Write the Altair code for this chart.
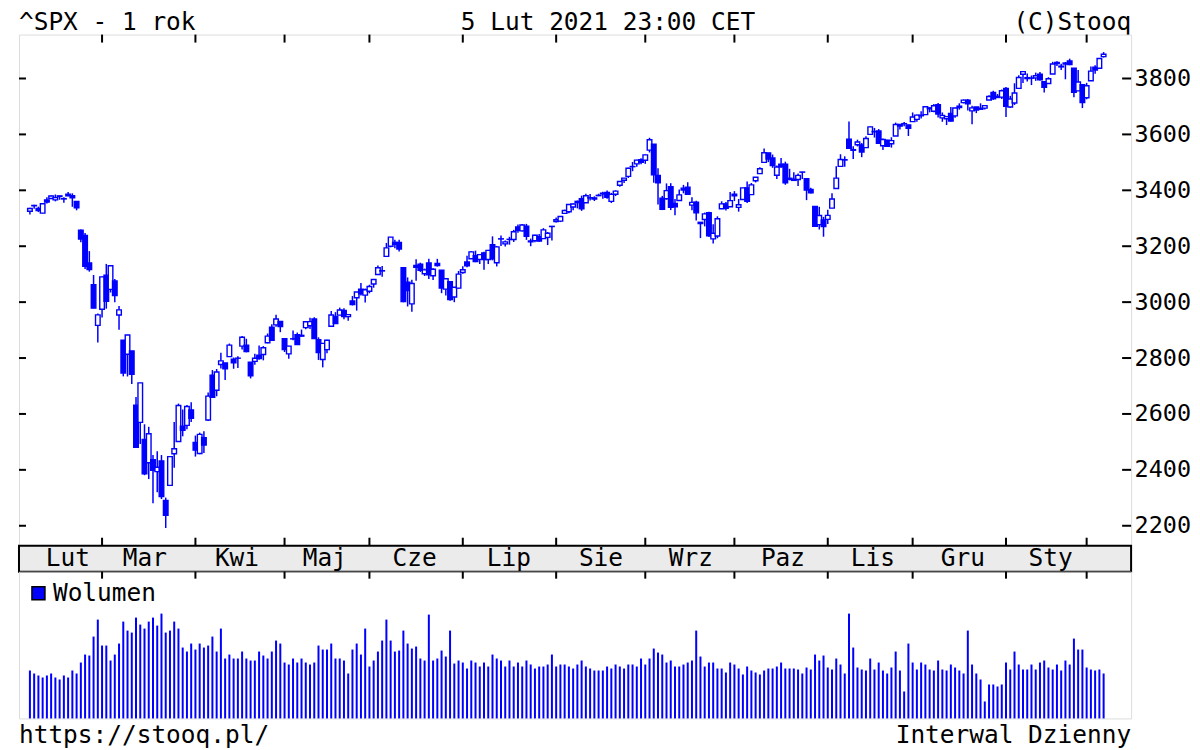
import altair as alt
import pandas as pd

# ---------------- data (one row per trading day, 2020-02-05 .. 2021-02-05) ----------------
opens = [
    3324.91, 3344.92, 3335.54, 3318.28, 3365.87, 3370.50, 3365.90, 3378.08, 3369.04, 3380.39, 3380.45, 3360.50, 3257.61, 3238.94, 3139.90, 3062.54, 2916.90,
    2974.28, 3096.46, 3045.75, 3075.70, 2954.20, 2863.89, 2813.48, 2825.60, 2630.86, 2569.99, 2508.59, 2425.66, 2436.50, 2393.48, 2431.94, 2290.71, 2344.44, 2457.77, 2501.29, 2555.87, 2558.98, 2614.69,
    2498.08, 2458.54, 2514.92, 2578.28, 2738.65, 2685.00, 2776.99, 2782.46, 2805.10, 2795.64, 2799.34, 2842.43, 2845.62, 2784.81, 2787.89, 2810.42, 2812.64, 2854.65, 2909.96, 2918.46, 2930.91,
    2869.09, 2815.01, 2868.88, 2883.14, 2878.26, 2908.83, 2915.46, 2939.50, 2865.86, 2794.54, 2829.95, 2913.86, 2948.59, 2953.63, 2969.95, 2948.05, 3004.08, 3015.65, 3046.61, 3025.17,
    3038.78, 3064.78, 3098.90, 3111.56, 3163.84, 3199.92, 3213.32, 3213.42, 3123.53, 3071.04, 2993.76, 3131.00, 3136.13, 3101.64, 3140.29, 3094.42, 3138.70, 3114.40, 3046.60, 3073.20, 3018.59, 3050.20,
    3105.92, 3143.64, 3155.29, 3166.44, 3153.07, 3176.17, 3152.47, 3205.08, 3141.11, 3225.98, 3208.36, 3224.21, 3224.29, 3268.52, 3254.86, 3271.64, 3218.58, 3219.84, 3234.27, 3227.22, 3231.76, 3270.45,
    3288.26, 3289.92, 3317.37, 3323.17, 3340.05, 3356.04, 3370.34, 3355.46, 3372.95, 3368.66, 3380.86, 3387.04, 3392.51, 3360.48, 3386.01, 3418.09, 3435.95, 3449.97, 3485.14, 3494.69, 3509.73,
    3507.44, 3543.76, 3564.74, 3453.60, 3371.88, 3369.82, 3412.56, 3352.70, 3363.56, 3407.73, 3411.23, 3346.86, 3357.38, 3285.57, 3295.75, 3320.11, 3226.14, 3236.66, 3333.90, 3350.92, 3341.21,
    3385.87, 3338.94, 3367.27, 3408.74, 3384.56, 3434.28, 3459.67, 3500.02, 3534.01, 3515.47, 3453.72, 3493.50, 3493.66, 3439.38, 3439.91, 3438.50, 3464.90, 3441.42, 3403.15, 3342.48, 3277.17, 3293.59,
    3296.20, 3336.25, 3406.46, 3485.74, 3508.34, 3583.04, 3543.26, 3563.22, 3562.67, 3552.57, 3600.16, 3610.31, 3612.09, 3559.41, 3579.31, 3566.82, 3594.52, 3635.50, 3638.55, 3634.18,
    3645.87, 3653.78, 3668.28, 3670.94, 3694.73, 3683.05, 3705.98, 3659.13, 3656.08, 3675.27, 3666.41, 3696.25, 3713.65, 3722.39, 3684.28, 3698.08, 3693.42, 3694.03, 3723.03, 3750.01, 3736.19, 3733.27,
    3764.61, 3698.02, 3712.20, 3764.71, 3815.05, 3803.14, 3801.62, 3802.23, 3814.98, 3788.73, 3781.88, 3816.22, 3857.46, 3844.24, 3851.68, 3862.96, 3836.83, 3755.75, 3778.05,
    3731.17, 3791.84, 3840.27, 3836.66, 3878.30,
]
highs = [
    3337.58, 3347.96, 3341.42, 3352.26, 3375.63, 3381.47, 3385.09, 3380.69, 3375.01, 3393.52, 3389.15, 3360.76, 3259.81, 3246.99, 3182.51, 3097.07, 2959.72,
    3090.96, 3136.72, 3130.97, 3083.04, 2985.93, 2863.89, 2882.59, 2825.60, 2660.95, 2711.33, 2562.98, 2553.93, 2453.57, 2466.97, 2453.01, 2300.73, 2449.71, 2571.42, 2637.01, 2615.91, 2631.80, 2641.39,
    2522.75, 2533.22, 2538.18, 2676.85, 2756.89, 2760.75, 2818.57, 2782.46, 2851.85, 2801.88, 2806.51, 2879.22, 2868.98, 2785.54, 2815.10, 2844.90, 2842.71, 2887.72, 2921.15, 2954.86, 2930.91,
    2869.09, 2844.24, 2898.23, 2891.11, 2901.92, 2932.16, 2944.25, 2945.82, 2874.14, 2852.80, 2865.01, 2968.09, 2964.21, 2980.29, 2978.50, 2956.76, 3021.72, 3036.25, 3068.67, 3049.17,
    3062.18, 3081.07, 3130.94, 3128.91, 3211.72, 3233.13, 3222.71, 3223.27, 3123.53, 3088.42, 3079.76, 3153.45, 3141.16, 3120.00, 3155.53, 3120.92, 3154.90, 3115.01, 3086.25, 3073.73, 3053.89, 3111.51,
    3128.44, 3165.81, 3182.59, 3184.15, 3171.80, 3179.78, 3186.82, 3235.32, 3200.95, 3238.28, 3220.39, 3233.52, 3258.61, 3277.29, 3279.32, 3279.99, 3227.26, 3241.43, 3243.72, 3264.74, 3250.92, 3272.17,
    3302.73, 3306.84, 3330.77, 3351.03, 3352.54, 3363.29, 3381.01, 3387.89, 3387.24, 3378.51, 3387.59, 3395.06, 3399.54, 3390.80, 3399.96, 3432.09, 3444.21, 3481.07, 3501.38, 3509.23, 3514.77,
    3528.03, 3588.11, 3564.85, 3479.15, 3379.97, 3424.77, 3425.55, 3368.95, 3402.93, 3419.48, 3428.92, 3375.17, 3362.27, 3285.57, 3320.31, 3323.35, 3278.70, 3306.88, 3360.74, 3357.92, 3393.56,
    3397.18, 3369.10, 3409.57, 3431.56, 3426.26, 3447.28, 3482.34, 3549.85, 3534.01, 3527.94, 3489.08, 3515.76, 3502.42, 3476.93, 3464.86, 3460.53, 3466.46, 3441.42, 3409.51, 3342.48, 3341.05, 3304.93,
    3330.14, 3389.49, 3486.25, 3529.05, 3521.58, 3645.99, 3557.22, 3581.16, 3569.02, 3593.66, 3628.51, 3623.11, 3619.09, 3585.22, 3581.23, 3589.81, 3642.31, 3635.50, 3644.31, 3634.18,
    3678.45, 3670.96, 3682.73, 3699.20, 3697.41, 3708.45, 3712.39, 3678.49, 3665.91, 3697.61, 3695.29, 3711.27, 3725.12, 3726.70, 3702.90, 3698.26, 3711.24, 3703.82, 3740.51, 3756.12, 3744.63, 3760.20,
    3769.99, 3737.83, 3783.04, 3811.55, 3826.69, 3817.86, 3810.78, 3820.96, 3823.60, 3788.73, 3804.53, 3859.75, 3861.45, 3852.31, 3859.23, 3870.90, 3836.83, 3830.50, 3778.05,
    3784.32, 3843.09, 3847.51, 3872.42, 3894.56,
]
lows = [
    3313.75, 3334.39, 3322.12, 3317.77, 3352.72, 3369.72, 3360.52, 3366.15, 3355.61, 3378.83, 3341.02, 3328.45, 3214.65, 3118.77, 3108.99, 2977.39, 2855.84,
    2945.19, 2976.63, 3034.38, 2999.83, 2901.54, 2734.43, 2734.00, 2707.22, 2478.86, 2492.37, 2380.94, 2367.04, 2280.52, 2319.78, 2295.56, 2191.86, 2344.44, 2407.53, 2500.72, 2520.02, 2545.28, 2571.15,
    2447.49, 2455.79, 2459.96, 2574.57, 2657.67, 2663.30, 2762.36, 2721.17, 2805.10, 2761.54, 2764.32, 2830.88, 2820.43, 2727.10, 2775.95, 2794.26, 2791.76, 2852.89, 2860.71, 2912.16, 2892.47,
    2821.61, 2797.85, 2863.55, 2847.65, 2876.48, 2902.88, 2903.44, 2869.59, 2793.15, 2766.64, 2816.78, 2913.86, 2922.35, 2953.63, 2938.57, 2933.59, 2988.17, 2969.75, 3023.40, 2998.61,
    3031.54, 3051.64, 3098.90, 3090.41, 3163.84, 3196.00, 3193.11, 3181.49, 2999.49, 2984.47, 2965.66, 3076.06, 3108.03, 3093.51, 3083.11, 3079.39, 3127.12, 3032.13, 3024.01, 3004.63, 2999.74, 3047.83,
    3101.17, 3124.52, 3155.29, 3142.93, 3136.53, 3115.70, 3136.22, 3149.43, 3127.66, 3200.76, 3198.59, 3205.65, 3215.16, 3247.77, 3253.10, 3222.66, 3200.05, 3214.25, 3216.17, 3227.22, 3204.13, 3220.26,
    3284.53, 3286.37, 3317.37, 3318.14, 3328.72, 3335.44, 3326.44, 3355.46, 3363.35, 3361.64, 3379.22, 3370.15, 3369.66, 3354.69, 3379.31, 3413.13, 3425.84, 3444.15, 3468.35, 3484.32, 3493.25,
    3494.60, 3535.23, 3427.41, 3349.63, 3329.27, 3366.84, 3329.25, 3310.47, 3363.56, 3389.25, 3384.45, 3328.82, 3292.40, 3229.10, 3270.95, 3232.57, 3209.45, 3228.44, 3332.91, 3327.54, 3340.47,
    3361.39, 3323.69, 3367.27, 3354.54, 3384.56, 3428.15, 3458.07, 3499.61, 3500.86, 3480.55, 3440.89, 3480.45, 3419.93, 3435.65, 3433.06, 3415.34, 3440.45, 3364.86, 3388.71, 3268.89, 3259.82, 3233.94,
    3279.74, 3336.25, 3405.17, 3485.74, 3484.34, 3547.48, 3511.91, 3557.00, 3518.58, 3552.57, 3600.16, 3588.68, 3567.33, 3543.84, 3556.85, 3552.77, 3594.52, 3617.76, 3629.33, 3594.39,
    3645.87, 3644.84, 3657.17, 3670.94, 3678.88, 3678.83, 3660.54, 3645.18, 3633.40, 3645.84, 3659.62, 3688.57, 3710.87, 3685.84, 3636.48, 3676.16, 3689.28, 3689.32, 3723.03, 3723.31, 3730.21, 3726.88,
    3662.71, 3695.07, 3705.34, 3764.71, 3783.60, 3789.02, 3776.51, 3791.50, 3792.86, 3749.62, 3780.37, 3816.22, 3845.05, 3830.41, 3797.16, 3847.78, 3732.48, 3755.75, 3694.12,
    3725.62, 3791.84, 3816.68, 3836.66, 3874.93,
]
closes = [
    3334.69, 3345.78, 3327.71, 3352.09, 3357.75, 3379.45, 3373.94, 3380.16, 3370.29, 3386.15, 3373.23, 3337.75, 3225.89, 3128.21, 3116.39, 2978.76, 2954.22,
    3090.23, 3003.37, 3130.12, 3023.94, 2972.37, 2746.56, 2882.23, 2741.38, 2480.64, 2711.02, 2386.13, 2529.19, 2398.10, 2409.39, 2304.92, 2237.40, 2447.33, 2475.56, 2630.07, 2541.47, 2626.65, 2584.59,
    2470.50, 2526.90, 2488.65, 2663.68, 2659.41, 2749.98, 2789.82, 2761.63, 2846.06, 2783.36, 2799.55, 2874.56, 2823.16, 2736.56, 2799.31, 2797.80, 2836.74, 2878.48, 2863.39, 2939.51, 2912.43,
    2830.71, 2842.74, 2868.44, 2848.42, 2881.19, 2929.80, 2930.32, 2870.12, 2820.00, 2852.50, 2863.70, 2953.91, 2922.94, 2971.61, 2948.51, 2955.45, 2991.77, 3036.13, 3029.73, 3044.31,
    3055.73, 3080.82, 3122.87, 3112.35, 3193.93, 3232.39, 3207.18, 3190.14, 3002.10, 3041.31, 3066.59, 3124.74, 3113.49, 3115.34, 3097.74, 3117.86, 3131.29, 3050.33, 3083.76, 3009.05, 3053.24, 3100.29,
    3115.86, 3130.01, 3179.72, 3145.32, 3169.94, 3152.05, 3185.04, 3155.22, 3197.52, 3226.56, 3215.57, 3224.73, 3251.84, 3257.30, 3276.02, 3235.66, 3215.63, 3239.41, 3218.44, 3258.44, 3246.22, 3271.12,
    3294.61, 3306.51, 3327.77, 3349.16, 3351.28, 3360.47, 3333.69, 3380.35, 3373.43, 3372.85, 3381.99, 3389.78, 3374.85, 3385.51, 3397.16, 3431.28, 3443.62, 3478.73, 3484.55, 3508.01, 3500.31,
    3526.65, 3580.84, 3455.06, 3426.96, 3331.84, 3398.96, 3339.19, 3340.97, 3383.54, 3401.20, 3385.49, 3357.01, 3319.47, 3281.06, 3315.57, 3236.92, 3246.59, 3298.46, 3351.60, 3335.47, 3363.00,
    3380.80, 3348.42, 3408.60, 3360.97, 3419.44, 3446.83, 3477.14, 3534.22, 3511.93, 3488.67, 3483.34, 3483.81, 3426.92, 3443.12, 3435.56, 3453.49, 3465.39, 3400.97, 3390.68, 3271.03, 3310.11, 3269.96,
    3310.24, 3369.16, 3443.44, 3510.45, 3509.44, 3550.50, 3545.53, 3572.66, 3537.01, 3585.15, 3626.91, 3609.53, 3567.79, 3581.87, 3557.54, 3577.59, 3635.41, 3629.65, 3638.35, 3621.63,
    3662.45, 3669.01, 3666.72, 3699.12, 3691.96, 3702.25, 3672.82, 3668.10, 3663.46, 3647.49, 3694.62, 3701.17, 3722.48, 3709.41, 3694.92, 3687.26, 3690.01, 3703.06, 3735.36, 3727.04, 3732.04, 3756.07,
    3700.65, 3726.86, 3748.14, 3803.79, 3824.68, 3799.61, 3801.19, 3809.84, 3795.54, 3768.25, 3798.91, 3851.85, 3853.07, 3841.47, 3855.36, 3849.62, 3750.77, 3787.38, 3714.24,
    3773.86, 3826.31, 3830.17, 3871.74, 3886.83,
]
# volume, relative units (read as bar heights)
volumes = [
    48, 45, 43, 41, 43, 45, 41, 39, 43, 41, 48, 45, 56, 64, 63, 82, 99,
    73, 73, 58, 64, 75, 97, 88, 86, 101, 94, 90, 97, 101, 93, 105, 86, 88, 97, 90, 71, 67,
    75, 69, 75, 71, 73, 82, 67, 90, 60, 64, 60, 60, 67, 60, 58, 58, 67, 63, 60, 67, 78, 75, 56,
    54, 60, 56, 60, 56, 54, 56, 73, 69, 69, 75, 60, 60, 58, 45, 69, 75, 64, 90,
    52, 58, 67, 78, 99, 78, 67, 68, 88, 75, 70, 72, 60, 58, 104, 58, 60, 68, 62, 88, 55, 58,
    56, 50, 58, 56, 52, 56, 52, 64, 60, 58, 52, 58, 52, 56, 52, 58, 54, 50, 52, 52, 54, 64,
    52, 54, 54, 52, 50, 54, 58, 52, 50, 48, 48, 48, 52, 50, 54, 52, 50, 54, 54, 52, 60,
    54, 60, 70, 66, 64, 56, 58, 52, 52, 54, 56, 58, 88, 62, 52, 56, 56, 50, 50, 46, 56,
    54, 50, 44, 52, 48, 46, 44, 48, 50, 50, 52, 56, 50, 50, 50, 49, 45, 51, 49, 64, 58, 63,
    51, 49, 60, 54, 45, 105, 71, 51, 49, 48, 60, 49, 56, 48, 45, 51, 67, 48, 27, 75,
    56, 49, 56, 54, 49, 48, 58, 49, 48, 54, 51, 48, 45, 88, 54, 45, 39, 17, 34, 34, 32, 34,
    56, 49, 67, 54, 49, 49, 54, 49, 56, 58, 51, 49, 54, 48, 58, 54, 80, 69, 69,
    51, 49, 48, 49, 45,
]

y_ticks = [2200, 2400, 2600, 2800, 3000, 3200, 3400, 3600, 3800]
month_start = [17, 39, 60, 80, 102, 124, 145, 166, 188, 208, 230, 249]
month_names = ["Lut", "Mar", "Kwi", "Maj", "Cze", "Lip", "Sie", "Wrz", "Paz", "Lis", "Gru", "Sty"]
month_label_pos = [10, 28, 49.5, 70, 91, 113, 134.5, 155.5, 177, 198, 219, 239.5]

# ---------------- layout / style ----------------
W = 1114
H_HEAD, H_PRICE, H_BAND, H_VOL, H_FOOT = 25, 512, 26, 147, 30
FONT = "DejaVu Sans Mono"
FS = 24.5
BLUE = "#0000ff"

df = pd.DataFrame({"i": list(range(len(closes))), "o": opens, "h": highs, "l": lows, "c": closes, "v": volumes})
ytick_df = pd.DataFrame({"v": y_ticks})
mstart_df = pd.DataFrame({"m": month_start})
mlab_df = pd.DataFrame({"p": month_label_pos, "lab": month_names})
one = pd.DataFrame({"a": [0]})

xscale = alt.Scale(domain=[-1.4, 258.3], nice=False, zero=False)
yscale = alt.Scale(domain=[2128.6, 3957.1], nice=False, zero=False)
yaxis = alt.Axis(orient="right", values=y_ticks, format="d", ticks=False, domain=False, grid=False,
                 labelFont=FONT, labelFontSize=23.5, labelColor="black", labelPadding=3,
                 labelOverlap=False, labelFlush=False, title=None)


def X(field):
    return alt.X(field, scale=xscale, axis=None)


# header
def htext(txt, x, align):
    return alt.Chart(one).mark_text(text=txt, font=FONT, fontSize=FS, align=align,
                                    baseline="alphabetic", color="black").encode(
        x=alt.value(x), y=alt.value(20.5))


header = alt.layer(
    htext("^SPX - 1 rok", 0, "left"),
    htext("5 Lut 2021 23:00 CET", 590, "center"),
    htext("(C)Stooq", W, "right"),
).properties(width=W, height=H_HEAD, view=alt.ViewBackground(stroke="transparent"))

# price panel
wick = alt.Chart(df).mark_rule(color=BLUE, strokeWidth=1.5).encode(
    x=X("i:Q"), y=alt.Y("l:Q", scale=yscale, axis=yaxis), y2="h:Q")
body = alt.Chart(df).mark_bar(size=4.6, stroke=BLUE, strokeWidth=1.4).encode(
    x=X("i:Q"), y=alt.Y("o:Q", scale=yscale, axis=yaxis), y2="c:Q",
    fill=alt.condition("datum.c < datum.o", alt.value(BLUE), alt.value("white")))
lt = alt.Chart(ytick_df).mark_rule(color="black", strokeWidth=2).encode(
    y=alt.Y("v:Q", scale=yscale, axis=yaxis), x=alt.value(0), x2=alt.value(7))
rt = alt.Chart(ytick_df).mark_rule(color="black", strokeWidth=2).encode(
    y=alt.Y("v:Q", scale=yscale, axis=yaxis), x=alt.value(W - 9), x2=alt.value(W))
tt = alt.Chart(mstart_df).mark_rule(color="black", strokeWidth=2).encode(
    x=X("m:Q"), y=alt.value(0), y2=alt.value(8))
bt = alt.Chart(mstart_df).mark_rule(color="black", strokeWidth=2).encode(
    x=X("m:Q"), y=alt.value(H_PRICE - 8), y2=alt.value(H_PRICE))
price = alt.layer(wick, body, lt, rt, tt, bt).properties(width=W, height=H_PRICE)

# month band
band = alt.Chart(mlab_df).mark_text(font=FONT, fontSize=FS, align="center", baseline="alphabetic",
                                    color="black").encode(
    x=X("p:Q"), y=alt.value(20), text="lab:N"
).properties(width=W, height=H_BAND,
             view=alt.ViewBackground(fill="#ebebeb", stroke="black", strokeWidth=2))

# volume panel
vbars = alt.Chart(df).mark_bar(size=2, color=BLUE).encode(
    x=X("i:Q"), y=alt.Y("v:Q", scale=alt.Scale(domain=[0, 147], nice=False), axis=None))
vt = alt.Chart(mstart_df).mark_rule(color="black", strokeWidth=2).encode(
    x=X("m:Q"), y=alt.value(0), y2=alt.value(7))
leg_sq = alt.Chart(one).mark_rect(fill=BLUE, stroke="black", strokeWidth=1.5).encode(
    x=alt.value(13), x2=alt.value(26), y=alt.value(15), y2=alt.value(28))
leg_tx = alt.Chart(one).mark_text(text="Wolumen", font=FONT, fontSize=FS, align="left",
                                  baseline="alphabetic", color="black").encode(
    x=alt.value(34), y=alt.value(29))
vol = alt.layer(vbars, vt, leg_sq, leg_tx).properties(width=W, height=H_VOL)

# footer
def ftext(txt, x, align):
    return alt.Chart(one).mark_text(text=txt, font=FONT, fontSize=FS, align=align,
                                    baseline="alphabetic", color="black").encode(
        x=alt.value(x), y=alt.value(25))


footer = alt.layer(
    ftext("https://stooq.pl/", 0, "left"),
    ftext("Interwal Dzienny", W, "right"),
).properties(width=W, height=H_FOOT, view=alt.ViewBackground(stroke="transparent"))

chart = alt.vconcat(header, price, band, vol, footer, spacing=0, bounds="flush").properties(
    padding={"left": 9, "top": 0, "right": 0, "bottom": 0}
).configure_view(stroke="black", strokeWidth=2).configure(background="white")

chart.save("out.html", embed_options={"renderer": "svg", "actions": False})
